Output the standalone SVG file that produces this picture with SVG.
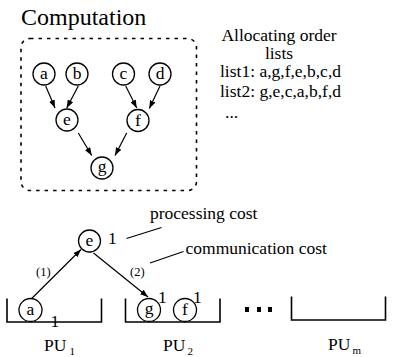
<svg xmlns="http://www.w3.org/2000/svg" width="393" height="357" viewBox="0 0 393 357">
<style>
text{font-family:"Liberation Serif","Times New Roman",serif;fill:#000;font-size:17.5px}
.n{fill:#fff;stroke:#000;stroke-width:1.3}
.lbl{text-anchor:middle}
.e{stroke:#000;stroke-width:1.2;fill:none}
.arr{marker-end:url(#ah)}
.b{fill:none;stroke:#000;stroke-width:1.6}
.sm{font-size:12.5px}
</style>
<defs>
<marker id="ah" markerUnits="userSpaceOnUse" markerWidth="9" markerHeight="6" refX="8" refY="3" orient="auto">
<path d="M0,0 L8,3 L0,6 z" fill="#000"/>
</marker>
</defs>
<rect width="393" height="357" fill="#fff"/>
<text x="21" y="25" style="font-size:24px">Computation</text>
<rect x="21" y="38.5" width="175.5" height="152" rx="9" fill="none" stroke="#000" stroke-width="1.6" stroke-dasharray="3.5 5"/>
<g id="lists">
<text class="lbl" x="279" y="41">Allocating order</text>
<text class="lbl" x="279" y="58.5">lists</text>
<text x="220" y="76.5">list1: a,g,f,e,b,c,d</text>
<text x="220" y="96.5">list2: g,e,c,a,b,f,d</text>
<text x="225" y="118">...</text>
</g>
<g id="connectors">
<path class="e arr" d="M45.7,86 L55,108"/>
<path class="e arr" d="M78.3,86 L66.7,108"/>
<path class="e arr" d="M125.7,86 L136.7,108"/>
<path class="e arr" d="M160,86 L149.3,108.5"/>
<path class="e arr" d="M78.3,133 L91.7,155.5"/>
<path class="e arr" d="M126.7,133 L115,155.5"/>
<path class="e arr" d="M31.7,298.5 L81,249.5"/>
<path class="e arr" d="M93.5,253 L148,297"/>
<path class="e" d="M126.5,238.5 L161.5,227.5"/>
<path class="e" d="M150,263 L183.5,251.5"/>
<text class="sm" x="36" y="276">(1)</text>
<text class="sm" x="130" y="276">(2)</text>
</g>
<g id="node-a"><circle class="n" cx="44" cy="74" r="11"/><text class="lbl" x="44" y="79">a</text></g>
<g id="node-b"><circle class="n" cx="77" cy="74" r="11"/><text class="lbl" x="77" y="79">b</text></g>
<g id="node-c"><circle class="n" cx="123.5" cy="74" r="11"/><text class="lbl" x="123.5" y="79">c</text></g>
<g id="node-d"><circle class="n" cx="160" cy="74" r="11"/><text class="lbl" x="160" y="79">d</text></g>
<g id="node-e"><circle class="n" cx="67" cy="120" r="11"/><text class="lbl" x="67" y="125">e</text></g>
<g id="node-f"><circle class="n" cx="138" cy="120.5" r="11"/><text class="lbl" x="138" y="125.5">f</text></g>
<g id="node-g"><circle class="n" cx="102" cy="168" r="11"/><text class="lbl" x="102" y="172">g</text></g>
<g id="pu1"><polyline class="b" points="7,298.5 7,322 101.5,322 101.5,298.5"/><text x="44" y="351">PU<tspan dx="3" dy="4" style="font-size:11px">1</tspan></text></g>
<g id="pu2"><polyline class="b" points="125.5,298.5 125.5,322 220,322 220,298.5"/><text x="163" y="351">PU<tspan dx="2" dy="4" style="font-size:11px">2</tspan></text></g>
<g id="pum"><polyline class="b" points="291.5,296.5 291.5,320 385.5,320 385.5,296.5"/><text x="328" y="350">PU<tspan dx="2" dy="4" style="font-size:11px">m</tspan></text></g>
<g id="dots"><rect x="245" y="307" width="4" height="5"/><rect x="257" y="307" width="4" height="5"/><rect x="268" y="307" width="4" height="5"/></g>
<g id="node-e2"><circle class="n" cx="89.5" cy="241" r="11"/><text class="lbl" x="89.5" y="246">e</text><text x="108" y="243.5">1</text></g>
<g id="node-a2"><circle class="n" cx="30.5" cy="310" r="11.5"/><text class="lbl" x="30.5" y="315">a</text><text x="50.5" y="327">1</text></g>
<g id="node-g2"><circle class="n" cx="149" cy="310" r="11.5"/><text class="lbl" x="149" y="314">g</text><text x="158" y="303">1</text></g>
<g id="node-f2"><circle class="n" cx="185" cy="310" r="11.5"/><text class="lbl" x="185" y="315">f</text><text x="193" y="303">1</text></g>
<g id="costs">
<text x="150" y="219">processing cost</text>
<text x="185.5" y="253.5">communication cost</text>
</g>
</svg>
